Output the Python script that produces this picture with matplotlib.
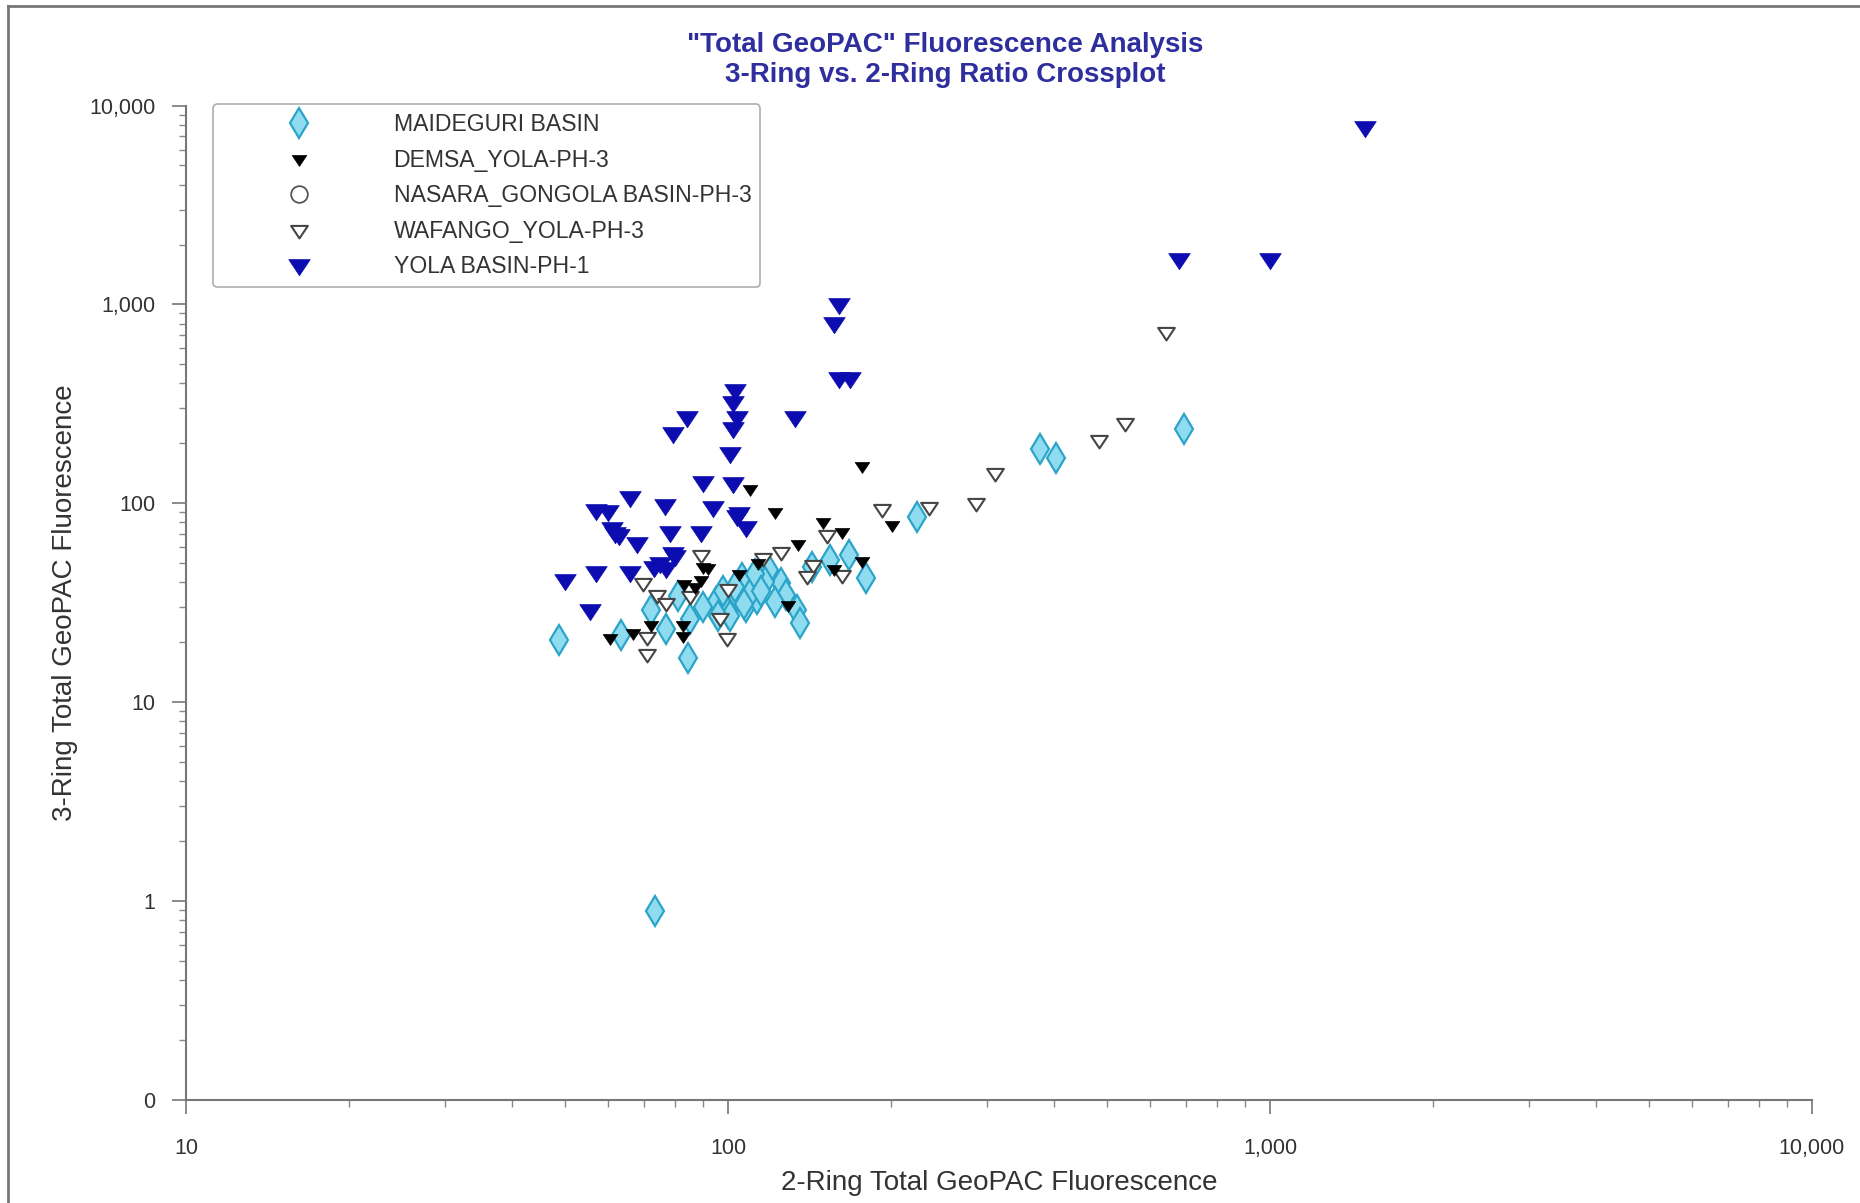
import matplotlib
matplotlib.use("Agg")
import matplotlib.pyplot as plt
from matplotlib.ticker import FixedLocator, FixedFormatter, LogLocator, NullFormatter
from matplotlib.lines import Line2D
from matplotlib.path import Path

plt.rcParams['font.family'] = ['Liberation Sans', 'DejaVu Sans']

# ---- data ----
series_names = ["MAIDEGURI BASIN", "DEMSA_YOLA-PH-3", "NASARA_GONGOLA BASIN-PH-3",
                "WAFANGO_YOLA-PH-3", "YOLA BASIN-PH-1"]

maiduguri_x = [693, 377, 403, 223, 180, 167, 154, 73.3, 48.7, 84.4, 72, 77, 63.6, 85,
               104, 111, 125, 134, 136, 128, 143, 119, 108, 100, 95, 106, 113, 90, 81,
               117, 98, 103, 110, 107, 101, 112, 96, 115, 122]
maiduguri_y = [236, 188, 169, 85, 42, 55, 52, 0.89, 20.5, 16.6, 29, 23.3, 21.6, 26,
               34, 37.8, 39.5, 29, 25, 34.5, 48, 46, 30, 28, 32, 42, 33, 30, 34,
               40, 36, 38, 35, 31, 27, 44, 27, 36, 32]

demsa_x = [177, 201, 122, 110, 150, 162, 177, 134.6, 113.5, 157, 129, 60.5, 82.6, 82.6,
           90, 92, 83, 66.8, 72, 89, 87, 105]
demsa_y = [154, 77.6, 90, 118, 80, 72, 51, 62.5, 50, 46.6, 30.8, 21, 24.4, 21.4,
           48, 47, 39, 22.2, 24.5, 41, 38, 44]

nasara_x = []
nasara_y = []

wafango_x = [643, 540, 483, 311, 287, 235, 192, 125, 143.5, 152.5, 162, 140, 99.6, 116,
             89, 69.7, 73.9, 77, 70.8, 70.8, 96.6, 85, 100]
wafango_y = [726, 253, 208, 142, 100, 96, 93.5, 56.7, 49, 69, 43.6, 43, 21, 53,
             55, 39.7, 34.6, 31.5, 21.3, 17.5, 26.5, 34, 37]

yola_x = [1500, 680, 1000, 160, 157, 160, 168, 103, 102, 104, 102, 101, 84, 79, 133,
          90, 102, 66, 57, 60, 76.5, 94, 105, 108, 104, 62, 68, 78, 89, 79, 80, 75, 73,
          77, 66, 57, 50, 55.6, 61, 63]
yola_y = [7800, 1700, 1700, 1000, 810, 425, 425, 371, 323, 272, 239, 179, 272, 225, 270,
          128, 127, 107, 92, 91, 98, 96, 89, 76, 86, 71, 63, 72, 72, 56, 54, 50, 48,
          47, 45, 45, 41, 29, 75, 69]

x_ticks = [10, 100, 1000, 10000]
x_ticklabels = ["10", "100", "1,000", "10,000"]
y_ticks = [0.1, 1, 10, 100, 1000, 10000]
y_ticklabels = ["0", "1", "10", "100", "1,000", "10,000"]

# ---- figure ----
fig = plt.figure(figsize=(18.6, 12.03), dpi=100)
ax = fig.add_axes([186/1860, 1 - 1099.5/1203, (1812-186)/1860, (1099.5-105.6)/1203])
ax.set_xscale('log')
ax.set_yscale('log')
ax.set_xlim(10, 10000)
ax.set_ylim(0.1, 10000)

tri_wide = Path([(-1, 0.55), (1, 0.55), (0, -0.95), (-1, 0.55)],
                [Path.MOVETO, Path.LINETO, Path.LINETO, Path.CLOSEPOLY])

blue = '#0c0cb0'
cyan_face = '#8fdcf0'
cyan_edge = '#2aa4c8'

h_yola, = ax.plot(yola_x, yola_y, linestyle='none', marker=tri_wide, ms=15.5,
                  mfc=blue, mec=blue, mew=0.5, zorder=2)
h_mai, = ax.plot(maiduguri_x, maiduguri_y, linestyle='none', marker='d', ms=15.5,
                 mfc=cyan_face, mec=cyan_edge, mew=1.6, zorder=3)
h_waf, = ax.plot(wafango_x, wafango_y, linestyle='none', marker=tri_wide, ms=12,
                 mfc='white', mec='#444444', mew=1.5, zorder=4)
h_dem, = ax.plot(demsa_x, demsa_y, linestyle='none', marker=tri_wide, ms=10.5,
                 mfc='black', mec='black', mew=0.5, zorder=5)
h_nas, = ax.plot(nasara_x, nasara_y, linestyle='none', marker='o', ms=12,
                 mfc='white', mec='#555555', mew=1.3, zorder=4)

# axes styling
for s in ['top', 'right']:
    ax.spines[s].set_visible(False)
for s in ['left', 'bottom']:
    ax.spines[s].set_color('#777777')
    ax.spines[s].set_linewidth(1.5)

ax.xaxis.set_major_locator(FixedLocator(x_ticks))
ax.xaxis.set_major_formatter(FixedFormatter(x_ticklabels))
ax.yaxis.set_major_locator(FixedLocator(y_ticks))
ax.yaxis.set_major_formatter(FixedFormatter(y_ticklabels))
ax.xaxis.set_minor_locator(LogLocator(base=10, subs=range(2, 10)))
ax.yaxis.set_minor_locator(LogLocator(base=10, subs=range(2, 10)))
ax.xaxis.set_minor_formatter(NullFormatter())
ax.yaxis.set_minor_formatter(NullFormatter())
ax.tick_params(which='major', direction='out', length=10, width=1.2, color='#777777',
               labelsize=15.5, labelcolor='#333333')
ax.tick_params(which='minor', direction='out', length=5, width=1.0, color='#888888')
ax.tick_params(axis='x', which='major', pad=18)
ax.tick_params(axis='y', which='major', pad=12)

ax.set_xlabel("2-Ring Total GeoPAC Fluorescence", fontsize=20, color='#333333', labelpad=8)
ax.set_ylabel("3-Ring Total GeoPAC Fluorescence", fontsize=20, color='#333333', labelpad=8)

fig.text(0.508, 0.963, "\"Total GeoPAC\" Fluorescence Analysis", ha='center', va='center',
         fontsize=20, fontweight='bold', color='#2e2e9e')
fig.text(0.508, 0.938, "3-Ring vs. 2-Ring Ratio Crossplot", ha='center', va='center',
         fontsize=20, fontweight='bold', color='#2e2e9e')

# legend
handles = [h_mai, h_dem, h_nas, h_waf, h_yola]
leg = ax.legend(handles, series_names, loc='upper left',
                bbox_to_anchor=((213-186)/1626, (1099.5-104)/993.9),
                borderaxespad=0, fontsize=16.6, handlelength=6.68, handletextpad=0.75,
                labelspacing=0.54, borderpad=0.4, frameon=True, fancybox=True,
                shadow=False, numpoints=1)
leg.get_frame().set_edgecolor('#999999')
leg.get_frame().set_linewidth(1.2)
for t in leg.get_texts():
    t.set_color('#333333')

# figure border (top and left)
fig.add_artist(Line2D([8/1860, 8/1860], [0, 1 - 6/1203], transform=fig.transFigure,
                      color='#777777', lw=2))
fig.add_artist(Line2D([8/1860, 1], [1 - 6/1203, 1 - 6/1203], transform=fig.transFigure,
                      color='#777777', lw=2))

fig.savefig("out.png", dpi=100)
